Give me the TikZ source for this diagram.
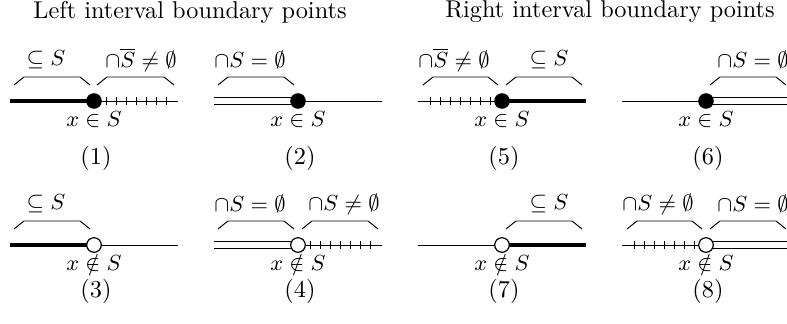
\documentclass[tikz,border=0pt]{standalone}
\usepackage{amssymb}
\usetikzlibrary{positioning}
\tikzset{
  axis/.style={line width=0.4pt},
  solidpart/.style={line width=2pt},
  emptypart/.style={double, double distance=2.7pt, line width=0.4pt},
  tickmark/.style={line width=0.4pt},
  brcline/.style={line width=0.4pt},
  fulldot/.style={circle, fill=black, draw=black, inner sep=0pt, minimum size=6pt},
  opendot/.style={circle, fill=white, draw=black, line width=0.5pt, inner sep=0pt, minimum size=6pt},
  setlbl/.style={font=\small, inner sep=1pt},
  ptlbl/.style={font=\small, inner sep=0.5pt},
  numlbl/.style={font=\normalsize, inner sep=0.5pt},
  headline/.style={font=\normalsize}
}
\newcommand{\overbrc}[3]{\draw[brcline] (#1,#3) -- (#1+10,#3-8) -- (#2-10,#3-8) -- (#2,#3);}
\newcommand{\ticksright}[2]{\foreach \t in {12,22,...,72} \draw[tickmark] (#1+\t,#2-3.6) -- (#1+\t,#2+3.6);}
\newcommand{\ticksleft}[2]{\foreach \t in {12,22,...,72} \draw[tickmark] (#1-\t,#2-3.6) -- (#1-\t,#2+3.6);}

\begin{document}
\begin{tikzpicture}[x=0.4115pt, y=-0.4115pt]
  \useasboundingbox (0,0) rectangle (787,323);

  \node[headline] (hleft) at (190,12) {Left interval boundary points};
  \node[headline] (hright) at (610,12) {Right interval boundary points};

  % (1)
  \draw[solidpart] (10,101) -- (94,101);
  \draw[axis] (94,101) -- (178,101);
  \ticksright{94}{101}
  \node[fulldot] (d1) at (94,101) {};
  \overbrc{14}{90}{85}
  \overbrc{97}{174}{85}
  \node[setlbl] (s1a) at (46,60) {$\subseteq S$};
  \node[setlbl] (s1b) at (141,60) {$\cap\overline{S}\neq\emptyset$};
  \node[ptlbl] (x1) at (94,120) {$x\in S$};
  \node[numlbl] (n1) at (96,158) {(1)};

  % (2)
  \draw[emptypart] (214,101) -- (298,101);
  \draw[axis] (298,101) -- (382,101);
  \node[fulldot] (d2) at (298,101) {};
  \overbrc{218}{294}{85}
  \node[setlbl] (s2a) at (250,60) {$\cap S=\emptyset$};
  \node[ptlbl] (x2) at (298,120) {$x\in S$};
  \node[numlbl] (n2) at (300,158) {(2)};

  % (5)
  \draw[axis] (418,101) -- (502,101);
  \ticksleft{502}{101}
  \draw[solidpart] (502,101) -- (586,101);
  \node[fulldot] (d5) at (502,101) {};
  \overbrc{423}{498}{85}
  \overbrc{506}{582}{85}
  \node[setlbl] (s5a) at (454,60) {$\cap\overline{S}\neq\emptyset$};
  \node[setlbl] (s5b) at (549,60) {$\subseteq S$};
  \node[ptlbl] (x5) at (502,120) {$x\in S$};
  \node[numlbl] (n5) at (504,158) {(5)};

  % (6)
  \draw[axis] (622,101) -- (706,101);
  \draw[emptypart] (706,101) -- (790,101);
  \node[fulldot] (d6) at (706,101) {};
  \overbrc{710}{786}{85}
  \node[setlbl] (s6b) at (753,60) {$\cap S=\emptyset$};
  \node[ptlbl] (x6) at (706,120) {$x\in S$};
  \node[numlbl] (n6) at (708,158) {(6)};

  % (3)
  \draw[solidpart] (10,245) -- (94,245);
  \draw[axis] (94,245) -- (178,245);
  \node[opendot] (d3) at (94,245) {};
  \overbrc{14}{90}{229}
  \node[setlbl] (s3a) at (46,204) {$\subseteq S$};
  \node[ptlbl] (x3) at (94,263) {$x\notin S$};
  \node[numlbl] (n3) at (96,291) {(3)};

  % (4)
  \draw[emptypart] (214,245) -- (298,245);
  \draw[axis] (298,245) -- (382,245);
  \ticksright{298}{245}
  \node[opendot] (d4) at (298,245) {};
  \overbrc{218}{294}{229}
  \overbrc{302}{378}{229}
  \node[setlbl] (s4a) at (250,204) {$\cap S=\emptyset$};
  \node[setlbl] (s4b) at (344,204) {$\cap S\neq\emptyset$};
  \node[ptlbl] (x4) at (298,263) {$x\notin S$};
  \node[numlbl] (n4) at (300,291) {(4)};

  % (7)
  \draw[axis] (418,245) -- (502,245);
  \draw[solidpart] (502,245) -- (586,245);
  \node[opendot] (d7) at (502,245) {};
  \overbrc{506}{582}{229}
  \node[setlbl] (s7b) at (549,204) {$\subseteq S$};
  \node[ptlbl] (x7) at (502,263) {$x\notin S$};
  \node[numlbl] (n7) at (504,291) {(7)};

  % (8)
  \draw[axis] (622,245) -- (706,245);
  \ticksleft{706}{245}
  \draw[emptypart] (706,245) -- (790,245);
  \node[opendot] (d8) at (706,245) {};
  \overbrc{627}{702}{229}
  \overbrc{710}{786}{229}
  \node[setlbl] (s8a) at (658,204) {$\cap S\neq\emptyset$};
  \node[setlbl] (s8b) at (753,204) {$\cap S=\emptyset$};
  \node[ptlbl] (x8) at (706,263) {$x\notin S$};
  \node[numlbl] (n8) at (708,291) {(8)};
\end{tikzpicture}
\end{document}
